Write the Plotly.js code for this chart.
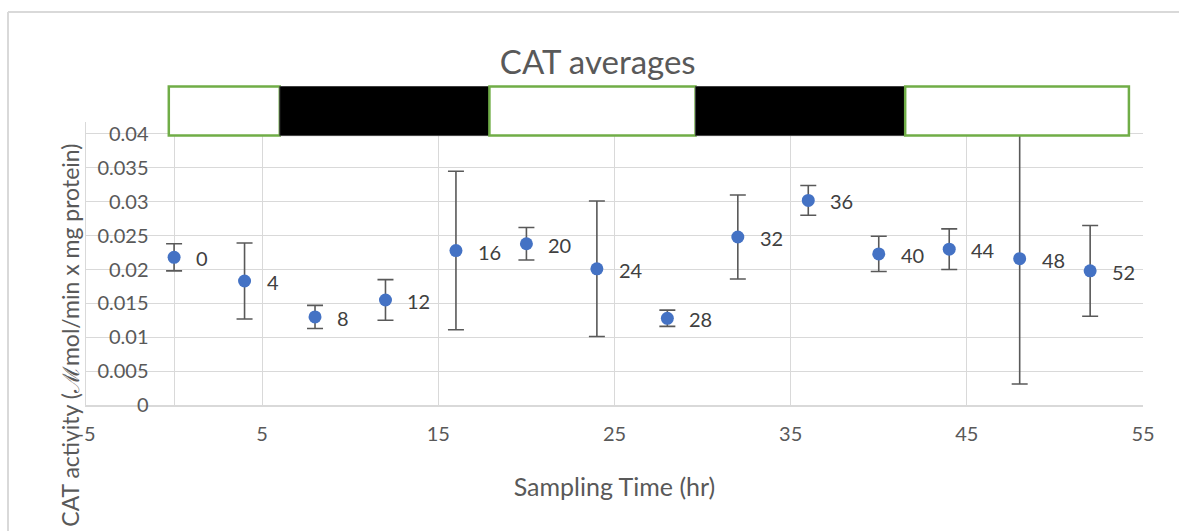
<!DOCTYPE html>
<html>
<head>
<meta charset="utf-8">
<script src="https://cdn.plot.ly/plotly-3.0.1.min.js"></script>
<style>html,body{margin:0;padding:0;background:#fff;}#chart{width:1179px;height:531px;}</style>
</head>
<body>
<div id="chart"></div>
<script>
// Sampling times (hr)
const samplingTime = [0, 4, 8, 12, 16, 20, 24, 28, 32, 36, 40, 44, 48, 52];
// CAT activity averages
const catAverage = [0.0218, 0.0183, 0.0130, 0.0155, 0.0228, 0.0238, 0.0201, 0.0128, 0.0248, 0.0302, 0.0223, 0.0230, 0.0216, 0.0198];
// Error (+/-)
const catError = [0.0020, 0.0056, 0.0017, 0.0030, 0.0117, 0.0024, 0.0100, 0.0012, 0.0062, 0.0022, 0.0026, 0.0030, 0.0185, 0.0067];
// Light / dark phases (hr)
const phaseStart = [-0.3, 6.0, 17.9, 29.6, 41.5];
const phaseEnd = [6.0, 17.9, 29.6, 41.5, 54.2];
const phaseDark = [false, true, false, true, false];
// Axis ticks
const xTicks = [-5, 5, 15, 25, 35, 45, 55];
const yTicks = [0, 0.005, 0.01, 0.015, 0.02, 0.025, 0.03, 0.035, 0.04];

const FONT = 'Lato, "Open Sans", sans-serif';
const GREY = '#595959';

const trace = {
  x: samplingTime,
  y: catAverage,
  type: 'scatter',
  mode: 'markers',
  marker: {color: '#4472C4', size: 13},
  error_y: {type: 'data', array: catError, visible: true, color: '#595959', thickness: 1.6, width: 8},
  hoverinfo: 'x+y',
  cliponaxis: false
};

const shapes = [];
for (let i = 0; i < phaseStart.length; i++) {
  shapes.push({
    type: 'rect', xref: 'x', yref: 'paper', layer: 'above',
    x0: phaseStart[i], x1: phaseEnd[i], y0: 0.952, y1: 1.1254,
    fillcolor: phaseDark[i] ? '#000000' : '#ffffff',
    line: phaseDark[i] ? {color: '#404040', width: 1} : {color: '#70AD47', width: 2.5}
  });
}
// outer chart border (light grey)
shapes.push({type: 'line', xref: 'paper', yref: 'paper', x0: -0.0738, x1: -0.0738, y0: -0.45, y1: 1.3887, line: {color: '#d9d9d9', width: 2}});
shapes.push({type: 'line', xref: 'paper', yref: 'paper', x0: -0.0738, x1: 1.05, y0: 1.3887, y1: 1.3887, line: {color: '#d9d9d9', width: 2}});

const annotations = samplingTime.map((t, i) => ({
  x: t, y: catAverage[i], xref: 'x', yref: 'y',
  text: String(t), showarrow: false, xanchor: 'left', yanchor: 'middle',
  xshift: 20, yshift: -1, font: {family: FONT, size: 20, color: '#404040'}
}));
annotations.push({
  xref: 'paper', yref: 'paper', x: -0.0151, y: 0.245,
  text: 'CAT activity (ℳmol/min x mg protein)', textangle: -90,
  showarrow: false, xanchor: 'center', yanchor: 'middle',
  font: {family: FONT, size: 23, color: GREY}
});

const layout = {
  width: 1179, height: 531,
  margin: {l: 86, r: 36, t: 122, b: 126},
  paper_bgcolor: '#ffffff', plot_bgcolor: '#ffffff',
  showlegend: false,
  font: {family: FONT, color: GREY, size: 20},
  title: {text: 'CAT averages', x: 0.507, xanchor: 'center', y: 0.883, yanchor: 'middle', yref: 'container',
          font: {family: FONT, size: 33, color: GREY}},
  xaxis: {
    range: [-5, 55], tickvals: xTicks, ticktext: xTicks.map(String),
    showgrid: true, gridcolor: '#d9d9d9', gridwidth: 1,
    zeroline: true, zerolinecolor: '#d9d9d9', zerolinewidth: 1,
    showline: true, linecolor: '#d9d9d9', linewidth: 1.5,
    ticks: '', ticklabelstandoff: 10,
    tickfont: {family: FONT, size: 20, color: GREY},
    title: {text: 'Sampling Time (hr)', standoff: 35, font: {family: FONT, size: 25, color: GREY}},
    fixedrange: true
  },
  yaxis: {
    range: [0, 0.04177], tickvals: yTicks, ticktext: yTicks.map(String),
    showgrid: true, gridcolor: '#d9d9d9', gridwidth: 1,
    zeroline: false, showline: true, linecolor: '#d9d9d9', linewidth: 1.5,
    ticks: '', ticklabelstandoff: -68,
    tickfont: {family: FONT, size: 20, color: GREY},
    fixedrange: true
  },
  shapes: shapes,
  annotations: annotations
};

Plotly.newPlot('chart', [trace], layout, {displayModeBar: false, staticPlot: true});
</script>
</body>
</html>
